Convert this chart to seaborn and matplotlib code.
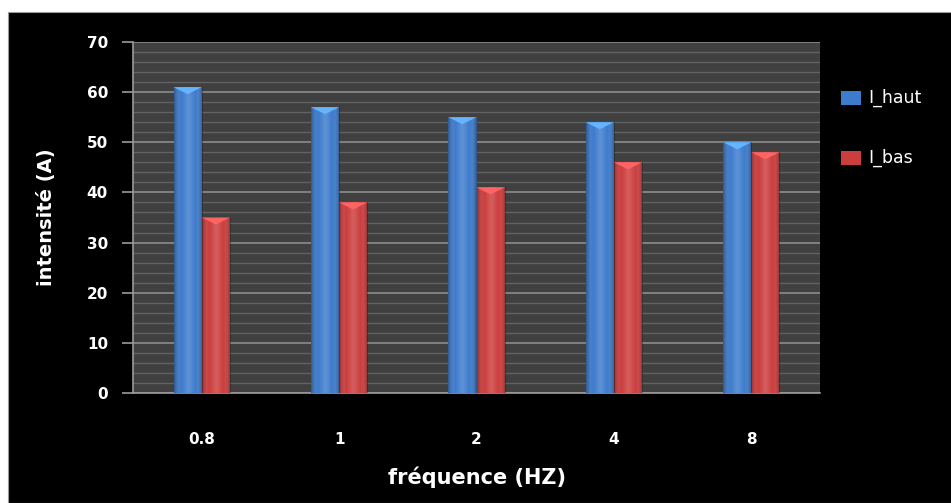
import numpy as np
import pandas as pd
import seaborn as sns
import matplotlib.pyplot as plt
from matplotlib.patches import Rectangle, Polygon
from matplotlib.colors import LinearSegmentedColormap

frequences = ["0.8", "1", "2", "4", "8"]
i_haut = [61, 57, 55, 54, 50]
i_bas = [35, 38, 41, 46, 48]
series = ["I_haut", "I_bas"]
colors = {"I_haut": "#3d7bcc", "I_bas": "#cc3d3d"}

df = pd.DataFrame({
    "fréquence": frequences * 2,
    "intensité": i_haut + i_bas,
    "série": [series[0]] * len(frequences) + [series[1]] * len(frequences),
})

sns.set_theme(style="dark")
plt.rcParams["font.family"] = ["DejaVu Sans"]

fig = plt.figure(figsize=(9.51, 5.03), dpi=100, facecolor="white")
# black panel behind the chart, with a thin white margin on top and left
fig.patches.append(Rectangle((8 / 951, 0), 1, 1 - 12 / 503, transform=fig.transFigure,
                             facecolor="black", edgecolor="#9a9a9a", linewidth=0.8, zorder=-10))

ax = fig.add_axes([133 / 951, 1 - 393 / 503, 687 / 951, 351 / 503])
ax.set_facecolor("#404040")

sns.barplot(data=df, x="fréquence", y="intensité", hue="série", order=frequences,
            hue_order=series, palette=colors, width=0.41, saturation=1,
            edgecolor="none", ax=ax, legend=False, zorder=3)

# cylinder-like shading on each bar
shade = LinearSegmentedColormap.from_list(
    "shade", [(0, 0, 0, 0.3), (1, 1, 1, 0.0), (1, 1, 1, 0.18), (1, 1, 1, 0.0), (0, 0, 0, 0.35)])
grad = np.linspace(0, 1, 256).reshape(1, -1)
for bar in list(ax.patches):
    x0, y0 = bar.get_x(), bar.get_y()
    w, h = bar.get_width(), bar.get_height()
    im = ax.imshow(grad, cmap=shade, extent=(x0, x0 + w, y0, y0 + h), aspect="auto",
                   zorder=4, interpolation="bicubic")
    im.set_clip_path(bar)
    fc = bar.get_facecolor()
    cap = Polygon([(x0, y0 + h), (x0 + w, y0 + h), (x0 + w / 2, y0 + h - 1.4)],
                  closed=True, facecolor=tuple(min(1, c * 1.3 + 0.08) for c in fc[:3]),
                  edgecolor="none", zorder=5)
    ax.add_patch(cap)

ax.set_ylim(0, 70)
ax.set_xlim(-0.5, len(frequences) - 0.5)
ax.set_yticks(range(0, 71, 10))
ax.set_yticks(range(0, 71, 2), minor=True)
ax.grid(which="major", axis="y", color="#8c8c8c", linewidth=1.2, zorder=1)
ax.grid(which="minor", axis="y", color="#626262", linewidth=1.0, zorder=1)
ax.grid(which="major", axis="x", visible=False)
ax.set_axisbelow(True)

for side in ["top", "right"]:
    ax.spines[side].set_visible(False)
for side in ["left", "bottom"]:
    ax.spines[side].set_visible(True)
    ax.spines[side].set_color("#9a9a9a")
    ax.spines[side].set_linewidth(1.2)

ax.tick_params(axis="y", which="major", left=True, length=8, width=1.2, color="#9a9a9a",
               labelcolor="white", labelsize=11, pad=10)
ax.tick_params(axis="y", which="minor", left=False)
ax.tick_params(axis="x", bottom=False, labelcolor="white", labelsize=11, pad=22)
for lbl in ax.get_yticklabels() + ax.get_xticklabels():
    lbl.set_fontweight("bold")

ax.set_xlabel("fréquence (HZ)", color="white", fontsize=15, fontweight="bold", labelpad=14)
ax.set_ylabel("intensité (A)", color="white", fontsize=14, fontweight="bold", labelpad=22)

# legend on the black panel
for k, name in enumerate(series):
    y = 1 - (98 + k * 60) / 503
    fig.patches.append(Rectangle((841 / 951, y - 0.013), 20 / 951, 0.026, transform=fig.transFigure,
                                 facecolor=colors[name], edgecolor="none", zorder=5))
    fig.text(868 / 951, y, name, color="white", fontsize=12.5,
             va="center", ha="left")

fig.savefig("out.png", dpi=100, facecolor=fig.get_facecolor())
